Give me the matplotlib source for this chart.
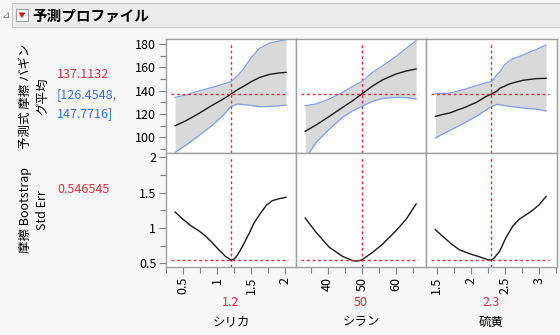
import matplotlib
matplotlib.use("Agg")
import matplotlib.pyplot as plt
from matplotlib.ticker import MultipleLocator, FixedLocator, FixedFormatter
import matplotlib.patches as mpatches

plt.rcParams['font.family'] = ['Noto Sans CJK JP', 'DejaVu Sans']

W, H = 560, 335

# factors and current settings
factors = ["シリカ", "シラン", "硫黄"]
current = [1.2, 50, 2.3]
current_labels = ["1.2", "50", "2.3"]
pred_mean = 137.1132
pred_lo, pred_hi = 126.4548, 147.7716
se_current = 0.546545

# profile traces (bagged mean with interval, bootstrap std err)
x_silica = [0.38, 0.54, 0.74, 0.93, 1.08, 1.2, 1.3, 1.4, 1.5, 1.62, 1.77, 1.91, 2.01]
mean_silica = [110.0, 114.3, 120.9, 127.7, 132.6, 137.1, 141.0, 144.2, 147.8, 151.3, 154.0, 155.2, 155.7]
hi_silica = [134.3, 136.3, 140.0, 142.9, 145.5, 147.8, 152.9, 160.0, 168.6, 176.3, 180.9, 182.6, 183.7]
lo_silica = [87.2, 93.4, 102.0, 110.6, 118.5, 126.5, 128.6, 128.0, 127.3, 126.3, 126.5, 127.0, 127.7]
sx_silica = [0.38, 0.49, 0.61, 0.74, 0.83, 0.93, 1.03, 1.12, 1.18, 1.2, 1.25, 1.3, 1.37,
             1.47, 1.54, 1.62, 1.72, 1.81, 1.91, 2.01]
se_silica = [1.225, 1.126, 1.032, 0.952, 0.881, 0.787, 0.683, 0.598, 0.561, 0.547, 0.561,
             0.622, 0.740, 0.928, 1.07, 1.188, 1.32, 1.386, 1.414, 1.433]

x_silane = [33.4, 36.6, 40.5, 44.4, 47.4, 50.0, 53.2, 56.2, 60.1, 63.1, 66.0]
mean_silane = [105.2, 110.6, 118.0, 125.7, 131.5, 137.1, 144.0, 149.4, 154.3, 156.9, 158.6]
hi_silane = [127.2, 128.6, 132.9, 138.6, 143.8, 147.8, 155.7, 161.4, 169.4, 176.3, 182.9]
lo_silane = [81.4, 95.7, 107.2, 117.2, 122.8, 126.5, 131.0, 133.4, 134.3, 134.0, 132.9]
sx_silane = [33.4, 36.6, 40.5, 44.4, 47.4, 48.8, 50.0, 53.2, 56.2, 60.1, 63.1, 66.0]
se_silane = [1.141, 0.938, 0.726, 0.598, 0.537, 0.532, 0.547, 0.655, 0.773, 0.961, 1.126, 1.339]

x_sulfur = [1.48, 1.64, 1.69, 1.83, 1.88, 2.08, 2.22, 2.3, 2.39, 2.42, 2.49, 2.56, 2.61,
            2.76, 2.95, 3.1]
mean_sulfur = [118.0, 120.3, 120.9, 124.0, 124.9, 130.0, 135.0, 137.1, 140.0, 142.0, 143.8,
               145.7, 146.6, 148.9, 150.3, 150.6]
hi_sulfur = [137.7, 137.7, 138.0, 140.0, 140.7, 144.3, 146.8, 147.8, 154.3, 156.0, 162.0,
             165.5, 167.2, 170.6, 175.2, 179.2]
lo_sulfur = [99.4, 104.5, 105.7, 110.2, 111.7, 118.0, 123.4, 126.5, 128.3, 128.0, 127.3,
             126.6, 126.3, 125.2, 124.3, 122.6]
sx_sulfur = [1.48, 1.59, 1.71, 1.83, 1.98, 2.12, 2.25, 2.3, 2.34, 2.42, 2.51, 2.61, 2.71,
             2.81, 2.9, 3.0, 3.1]
se_sulfur = [0.976, 0.881, 0.778, 0.693, 0.636, 0.594, 0.551, 0.547, 0.575, 0.669, 0.858,
             1.023, 1.126, 1.188, 1.249, 1.329, 1.447]

# axis settings per factor
xlims = [(0.245, 2.157), (30.7, 68.9), (1.344, 3.259)]
xmajor = [[0.5, 1, 1.5, 2], [40, 50, 60], [1.5, 2, 2.5, 3]]
xmajor_labels = [["0.5", "1", "1.5", "2"], ["40", "50", "60"], ["1.5", "2", "2.5", "3"]]
xminor = [0.25, 5, 0.25]

top_ticks = [100, 120, 140, 160, 180]
bot_ticks = [0.5, 1, 1.5, 2]
bot_tick_labels = ["0.5", "1", "1.5", "2"]

profiles = [
    (x_silica, mean_silica, lo_silica, hi_silica, sx_silica, se_silica),
    (x_silane, mean_silane, lo_silane, hi_silane, sx_silane, se_silane),
    (x_sulfur, mean_sulfur, lo_sulfur, hi_sulfur, sx_sulfur, se_sulfur),
]

RED = "#e0303a"
BLUE = "#3a6ee8"
EDGE = "#a0a0a0"
FS = 9


def box(x0, y0, x1, y1):
    return [x0 / W, 1 - y1 / H, (x1 - x0) / W, (y1 - y0) / H]


def style(ax):
    for s in ax.spines.values():
        s.set_color(EDGE)
        s.set_linewidth(1.0)
    ax.tick_params(which="both", color="#808080", labelsize=FS, pad=2)
    ax.tick_params(which="major", length=5, width=0.8)
    ax.tick_params(which="minor", length=4, width=0.8)


fig = plt.figure(figsize=(W / 100, H / 100), dpi=100)
fig.patch.set_facecolor("#f7f7f7")

# header band
fig.patches.append(mpatches.Rectangle((12 / W, 1 - 27 / H), (W - 12) / W, 24 / H,
                                      transform=fig.transFigure, facecolor="#ececec",
                                      edgecolor="#c8c8c8", linewidth=0.8))
fig.patches.append(mpatches.Rectangle((16 / W, 1 - 21 / H), 12 / W, 12 / H,
                                      transform=fig.transFigure, facecolor="white",
                                      edgecolor="#a0a0a0", linewidth=0.8))
fig.patches.append(mpatches.Polygon([(18.5 / W, 1 - 12.5 / H), (25.5 / W, 1 - 12.5 / H),
                                     (22 / W, 1 - 18 / H)], closed=True,
                                    transform=fig.transFigure, facecolor="#d01010",
                                    edgecolor="none"))
fig.text(2 / W, 1 - 15 / H, "⊿", fontsize=7, color="#707070", va="center", ha="left",
         family=['DejaVu Sans'])
fig.text(32 / W, 1 - 15 / H, "予測プロファイル", fontsize=10.5, fontweight="bold",
         va="center", ha="left")

cols = [166, 296, 426, 557]
rows = [39, 153, 267]

for i, (xs, mean, lo, hi, sxs, se) in enumerate(profiles):
    ax_t = fig.add_axes(box(cols[i], rows[0], cols[i + 1], rows[1]))
    ax_b = fig.add_axes(box(cols[i], rows[1], cols[i + 1], rows[2]))
    for ax in (ax_t, ax_b):
        ax.set_xlim(*xlims[i])
        ax.set_facecolor("white")
        style(ax)
        ax.xaxis.set_major_locator(FixedLocator(xmajor[i]))
        ax.xaxis.set_minor_locator(MultipleLocator(xminor[i]))
        ax.axvline(current[i], ymax=0.955, color=RED, linestyle=(0, (2, 2)), linewidth=1)

    ax_t.fill_between(xs, lo, hi, color="#d9d9d9", linewidth=0)
    ax_t.plot(xs, hi, color="#7f9fe8", linewidth=0.9)
    ax_t.plot(xs, lo, color="#7f9fe8", linewidth=0.9)
    ax_t.plot(xs, mean, color="#1a1a1a", linewidth=1.0)
    ax_t.axhline(pred_mean, xmin=0.035, xmax=0.94, color=RED, linestyle=(0, (2, 2)), linewidth=1)
    ax_t.set_ylim(86.6, 184.3)
    ax_t.tick_params(axis="x", which="both", bottom=False, labelbottom=False)

    ax_b.plot(sxs, se, color="#1a1a1a", linewidth=1.0)
    ax_b.axhline(se_current, xmin=0.035, xmax=0.94, color=RED, linestyle=(0, (2, 2)), linewidth=1)
    ax_b.set_ylim(0.448, 2.06)
    ax_b.xaxis.set_major_formatter(FixedFormatter(xmajor_labels[i]))
    ax_b.tick_params(axis="x", labelrotation=90)

    if i == 0:
        ax_t.yaxis.set_major_locator(FixedLocator(top_ticks))
        ax_t.yaxis.set_minor_locator(MultipleLocator(10))
        ax_b.yaxis.set_major_locator(FixedLocator(bot_ticks))
        ax_b.yaxis.set_major_formatter(FixedFormatter(bot_tick_labels))
        ax_b.yaxis.set_minor_locator(MultipleLocator(0.25))
    else:
        for ax in (ax_t, ax_b):
            ax.tick_params(axis="y", which="both", left=False, labelleft=False)

    xc = (cols[i] + cols[i + 1]) / 2
    fig.text(xc / W, 1 - 302 / H, current_labels[i], color=RED, fontsize=FS,
             ha="center", va="center")
    fig.text(xc / W, 1 - 322 / H, factors[i], fontsize=FS, ha="center", va="center")

# response labels on the left
fig.text(34 / W, 1 - 96 / H, "予測式 摩擦 バギン\nグ平均", rotation=90, fontsize=FS,
         ha="center", va="center", multialignment="center", linespacing=1.45)
fig.text(34 / W, 1 - 210 / H, "摩擦 Bootstrap\nStd Err", rotation=90, fontsize=FS,
         ha="center", va="center", multialignment="center", linespacing=1.45)
fig.text(57 / W, 1 - 75 / H, f"{pred_mean:.4f}", color=RED, fontsize=FS, va="center")
fig.text(57 / W, 1 - 95 / H, f"[{pred_lo:.4f},", color=BLUE, fontsize=FS, va="center")
fig.text(57 / W, 1 - 114 / H, f"{pred_hi:.4f}]", color=BLUE, fontsize=FS, va="center")
fig.text(57 / W, 1 - 189 / H, f"{se_current:.6f}", color=RED, fontsize=FS, va="center")

fig.savefig("out.png", dpi=100, facecolor=fig.get_facecolor())
